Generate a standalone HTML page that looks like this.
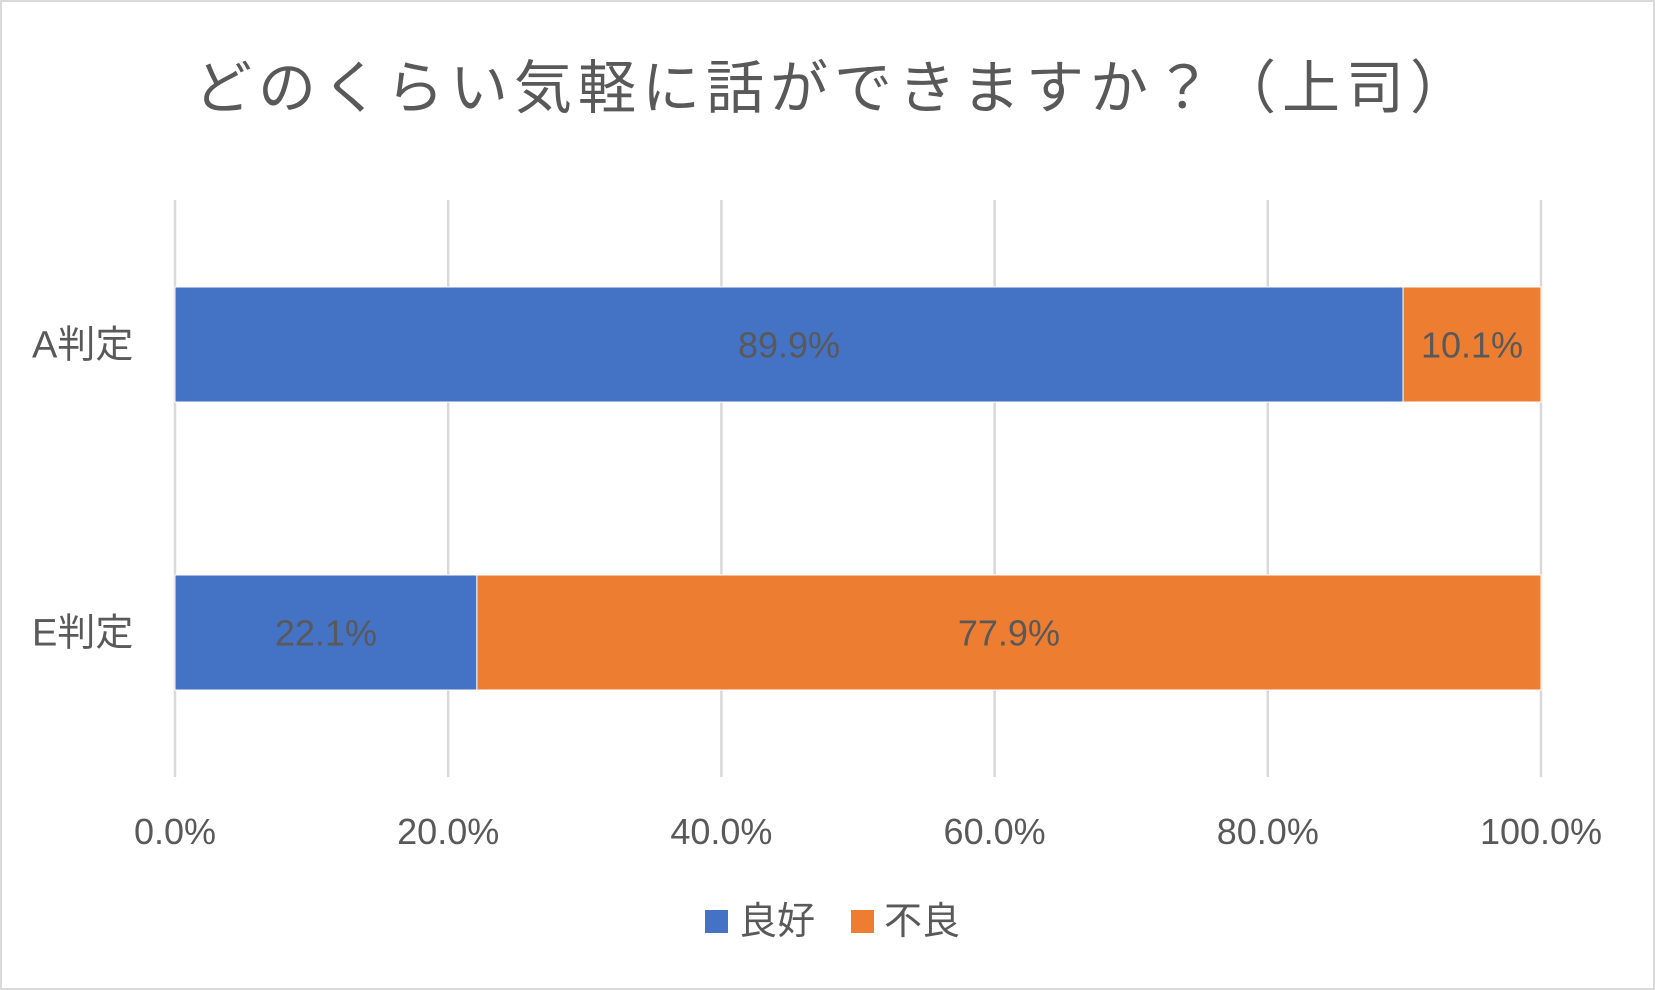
<!DOCTYPE html>
<html><head><meta charset="utf-8"><style>
html,body{margin:0;padding:0;background:#fff}
svg{display:block}
text{font-family:"Liberation Sans","Noto Sans CJK JP",sans-serif;fill:#595959}
</style></head><body>
<svg id="chart" width="1655" height="990">
<rect x="1" y="1" width="1653" height="988" fill="#fff" stroke="#d9d9d9" stroke-width="2"/>
<text x="834" y="108" font-size="58" text-anchor="middle" letter-spacing="6">どのくらい気軽に話ができますか？（上司）</text>
<g id="grid"></g><g id="bars"></g><g id="labels"></g>
<g>
<rect x="705" y="910" width="23" height="23" fill="#4472C4"/>
<text x="739" y="934" font-size="38">良好</text>
<rect x="851" y="910" width="23" height="23" fill="#ED7D31"/>
<text x="884" y="934" font-size="38">不良</text>
</g>
</svg>
<script>
const categories = ["A判定","E判定"];
const goodValues = [89.9, 22.1];
const badValues = [10.1, 77.9];
const ticks = [0,20,40,60,80,100];
const tickLabels = ["0.0%","20.0%","40.0%","60.0%","80.0%","100.0%"];

const NS="http://www.w3.org/2000/svg";
const X0=175,X1=1541,YT=200,YB=777;
const bandTops=[287,575], barH=115;
function xs(v){return X0+(X1-X0)*v/100;}
function mk(tag,attrs,parent){const e=document.createElementNS(NS,tag);for(const k in attrs)e.setAttribute(k,attrs[k]);document.getElementById(parent).appendChild(e);return e;}
ticks.forEach((t,i)=>{
  const l=mk('line',{x1:xs(t),x2:xs(t),y1:YT,y2:YB,stroke:'#d9d9d9','stroke-width':2.5},'grid');
  
  
  const tx=mk('text',{x:xs(t),y:844,'font-size':36,'text-anchor':'middle'},'labels');
  tx.textContent=tickLabels[i];
  
  
});
categories.forEach((c,i)=>{
  const y=bandTops[i];
  const cl=mk('text',{x:32,y:y+barH/2+13,'font-size':38},'labels');
  cl.textContent=c;
  
  
  let acc=0;
  [[goodValues[i],'#4472C4','good'],[badValues[i],'#ED7D31','bad']].forEach(([v,col,nm])=>{
    const r=mk('rect',{x:xs(acc),y:y,width:xs(acc+v)-xs(acc),height:barH,fill:col,stroke:'#fff','stroke-width':1},'bars');
    
    
    const t=mk('text',{x:(xs(acc)+xs(acc+v))/2,y:y+barH/2+13,'font-size':36,'text-anchor':'middle'},'labels');
    t.setAttribute('fill','#404040');
    t.textContent=v.toFixed(1)+'%';
    
    
    acc+=v;
  });
});
</script>
</body></html>
